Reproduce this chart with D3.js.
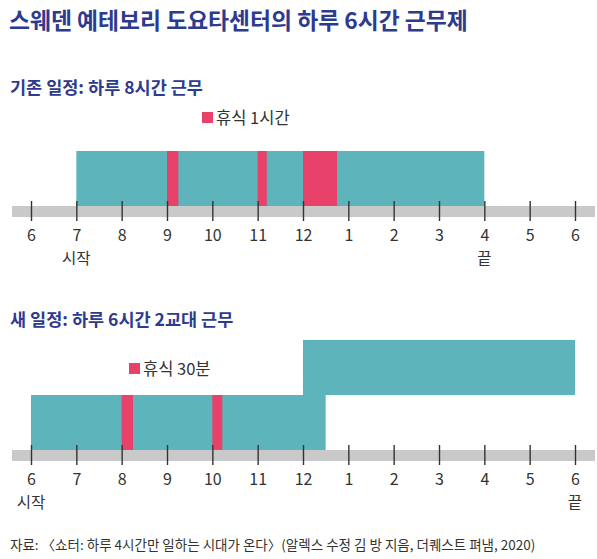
<!DOCTYPE html>
<html>
<head>
<meta charset="utf-8">
<script src="https://cdn.jsdelivr.net/npm/d3@7"></script>
<style>
  html, body { margin: 0; padding: 0; background: #fff; }
  svg { display: block; }
  text { font-family: "Noto Sans CJK KR", "Noto Sans", sans-serif; }
</style>
</head>
<body>
<svg id="chart" width="597" height="559"></svg>
<script>
// ---- data ----
const title = "스웨덴 예테보리 도요타센터의 하루 6시간 근무제";
const source = "자료: 〈쇼터: 하루 4시간만 일하는 시대가 온다〉(알렉스 수정 김 방 지음, 더퀘스트 펴냄, 2020)";

const hourTicks = [6, 7, 8, 9, 10, 11, 12, 13, 14, 15, 16, 17, 18];
const hourLabels = ["6", "7", "8", "9", "10", "11", "12", "1", "2", "3", "4", "5", "6"];

// old schedule
const oldTitle = "기존 일정: 하루 8시간 근무";
const oldLegend = "휴식 1시간";
const oldShifts = [{ start: 7, end: 16, row: 0 }];
const oldBreaks = [{ start: 9, end: 9.25 }, { start: 11, end: 11.2 }, { start: 12, end: 12.75 }];
const oldMarks = [{ hour: 7, label: "시작" }, { hour: 16, label: "끝" }];

// new schedule
const newTitle = "새 일정: 하루 6시간 2교대 근무";
const newLegend = "휴식 30분";
const newShifts = [{ start: 6, end: 12.5, row: 0 }, { start: 12, end: 18, row: 1 }];
const newBreaks = [{ start: 8, end: 8.25 }, { start: 10, end: 10.22 }];
const newMarks = [{ hour: 6, label: "시작" }, { hour: 18, label: "끝" }];

// ---- drawing ----
const svg = d3.select("#chart");
const teal = "#5db4bb", red = "#e8416a", band = "#c9c9c9", blue = "#2d3b8e";

const x = d3.scaleLinear().domain([6, 18]).range([31, 575]);

svg.append("text").attr("x", 9).attr("y", 29)
  .attr("font-size", 22.8).attr("font-weight", 700).attr("fill", blue)
  .text(title);

function panel(cfg) {
  const g = svg.append("g");
  g.append("text").attr("x", 10).attr("y", cfg.titleY)
    .attr("font-size", 17.5).attr("font-weight", 700).attr("fill", blue)
    .text(cfg.title);

  // legend
  g.append("rect").attr("x", cfg.legX).attr("y", cfg.legY - 6).attr("width", 11).attr("height", 11).attr("fill", red);
  g.append("text").attr("x", cfg.legX + 14).attr("y", cfg.legY + 6)
    .attr("font-size", 16.5).attr("fill", "#333").text(cfg.legend);

  // grey band
  g.append("rect").attr("x", 12).attr("y", cfg.bandY).attr("width", 583).attr("height", 11).attr("fill", band);

  // bars
  const rowH = cfg.rowH;
  g.selectAll("rect.shift").data(cfg.shifts).join("rect").attr("class", "shift")
    .attr("x", d => x(d.start)).attr("width", d => x(d.end) - x(d.start))
    .attr("y", d => cfg.bandY - rowH * (d.row + 1)).attr("height", rowH)
    .attr("fill", teal);
  g.selectAll("rect.brk").data(cfg.breaks).join("rect").attr("class", "brk")
    .attr("x", d => x(d.start)).attr("width", d => x(d.end) - x(d.start))
    .attr("y", cfg.bandY - rowH).attr("height", rowH)
    .attr("fill", red);

  // axis
  const axis = d3.axisBottom(x).tickValues(hourTicks)
    .tickFormat((d, i) => hourLabels[i]).tickSize(20).tickPadding(9);
  const ag = g.append("g").attr("transform", `translate(0,${cfg.bandY - 5})`).call(axis);
  ag.select(".domain").remove();
  ag.selectAll(".tick line").attr("stroke", "#333").attr("stroke-width", 1.4);
  ag.selectAll(".tick text").attr("font-size", 16).attr("fill", "#333")
    .attr("font-family", "'Liberation Sans', Arial, sans-serif");

  g.selectAll("text.mark").data(cfg.marks).join("text").attr("class", "mark")
    .attr("x", d => x(d.hour)).attr("y", cfg.bandY + 58)
    .attr("text-anchor", "middle").attr("font-size", 15.5).attr("fill", "#333")
    .text(d => d.label);
}

panel({ title: oldTitle, titleY: 94, legend: oldLegend, legX: 202, legY: 118,
        bandY: 206, rowH: 55, shifts: oldShifts, breaks: oldBreaks, marks: oldMarks });
panel({ title: newTitle, titleY: 326, legend: newLegend, legX: 129, legY: 369,
        bandY: 450, rowH: 55, shifts: newShifts, breaks: newBreaks, marks: newMarks });

svg.append("text").attr("x", 10).attr("y", 550)
  .attr("font-size", 13.5).attr("fill", "#333")
  .text(source);
</script>
</body>
</html>
